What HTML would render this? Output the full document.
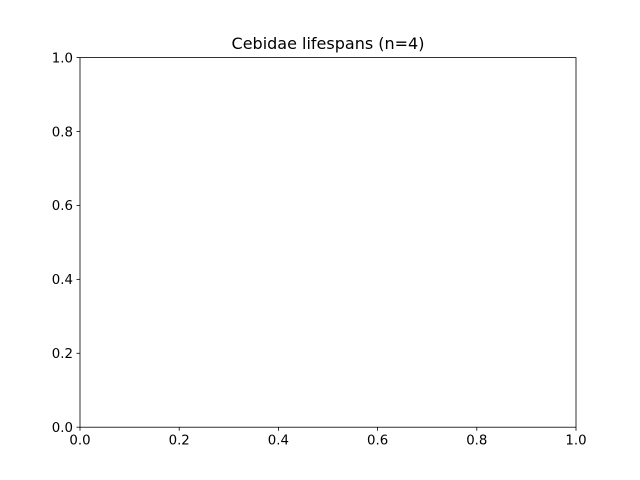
<!DOCTYPE html>
<html><head><meta charset="utf-8"><style>
html,body{margin:0;padding:0;background:#fff;}
svg{display:block;font-family:"DejaVu Sans","Liberation Sans",sans-serif;}
</style></head><body>
<svg id="chart" width="640" height="480" viewBox="0 0 640 480" xmlns="http://www.w3.org/2000/svg">
<rect x="0" y="0" width="640" height="480" fill="#fff"/>
<text x="328" y="49" text-anchor="middle" font-size="16" fill="#000">Cebidae lifespans (n=4)</text>
<g id="axes"></g>
</svg>
<script>
const xTicks = [0.0, 0.2, 0.4, 0.6, 0.8, 1.0];
const yTicks = [0.0, 0.2, 0.4, 0.6, 0.8, 1.0];
const xDomain = [0, 1];
const yDomain = [0, 1];
const L = 80, R = 576, T = 57.6, B = 427.2;
const NS = 'http://www.w3.org/2000/svg';
function xs(v){ return L + (v - xDomain[0]) / (xDomain[1] - xDomain[0]) * (R - L); }
function ys(v){ return B - (v - yDomain[0]) / (yDomain[1] - yDomain[0]) * (B - T); }
const g = document.getElementById('axes');
function mk(tag, attrs){ const e = document.createElementNS(NS, tag); for (const k in attrs) e.setAttribute(k, attrs[k]); g.appendChild(e); return e; }
xTicks.forEach(v => {
  const x = xs(v);
  const t = mk('line', {x1:x, x2:x, y1:B, y2:B+3.5, stroke:'#000', 'stroke-width':0.8});
  
  
  const l = mk('text', {x:x, y:B+17.5, 'text-anchor':'middle', 'font-size':13.33, fill:'#000'});
  l.textContent = v.toFixed(1);
  
  
});
yTicks.forEach(v => {
  const y = ys(v);
  const t = mk('line', {x1:L-3.5, x2:L, y1:y, y2:y, stroke:'#000', 'stroke-width':0.8});
  
  
  const l = mk('text', {x:L-7, y:y+4.8, 'text-anchor':'end', 'font-size':13.33, fill:'#000'});
  l.textContent = v.toFixed(1);
  
  
});
const frame = mk('rect', {x:L, y:T, width:R-L, height:B-T, fill:'none', stroke:'#000', 'stroke-width':0.8});


</script>
</body></html>
